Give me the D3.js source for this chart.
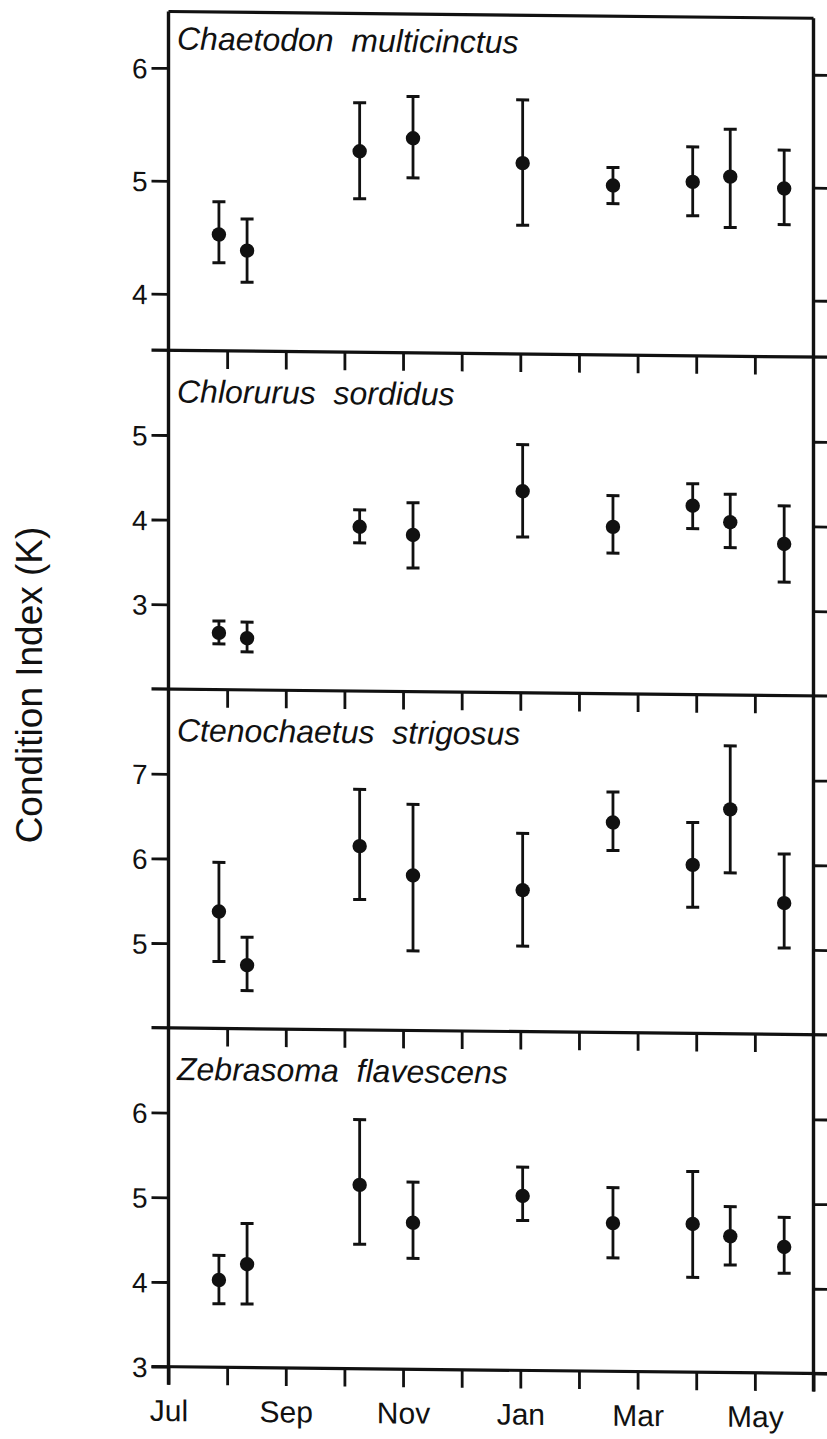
<!DOCTYPE html>
<html>
<head>
<meta charset="utf-8">
<script src="https://cdn.jsdelivr.net/npm/d3@7"></script>
<style>
  html, body { margin: 0; padding: 0; background: #fff; }
  svg { display: block; font-family: "Liberation Sans", Arial, Helvetica, sans-serif; }
  .title { white-space: pre; }
</style>
</head>
<body>
<svg id="chart" width="827" height="1439"></svg>
<script>
// ---------------- data ----------------
const monthNames = ["Jul","Aug","Sep","Oct","Nov","Dec","Jan","Feb","Mar","Apr","May","Jun"];
const monthTickLabels = ["Jul","","Sep","","Nov","","Jan","","Mar","","May",""];
// sampling dates, in months after 1 July
const sampleMonths = [0.86, 1.34, 3.26, 4.17, 6.04, 7.58, 8.94, 9.58, 10.5];

const speciesNames = ["Chaetodon  multicinctus", "Chlorurus  sordidus", "Ctenochaetus  strigosus", "Zebrasoma  flavescens"];
const yDomains = [[3.5, 6.5], [2, 6], [4, 8], [3, 7]];
const yTickValues = [[4, 5, 6], [3, 4, 5], [5, 6, 7], [3, 4, 5, 6]];

const chaetodonMean  = [4.53, 4.39, 5.28, 5.40, 5.19, 5.00, 5.04, 5.09, 4.99];
const chaetodonUpper = [4.82, 4.67, 5.71, 5.77, 5.75, 5.16, 5.35, 5.51, 5.33];
const chaetodonLower = [4.28, 4.11, 4.86, 5.05, 4.64, 4.84, 4.74, 4.64, 4.67];

const chlorurusMean  = [2.67, 2.61, 3.94, 3.85, 4.38, 3.97, 4.23, 4.04, 3.79];
const chlorurusUpper = [2.81, 2.80, 4.14, 4.23, 4.93, 4.34, 4.49, 4.37, 4.24];
const chlorurusLower = [2.54, 2.45, 3.75, 3.46, 3.84, 3.66, 3.96, 3.74, 3.34];

const ctenochaetusMean  = [5.38, 4.75, 6.17, 5.83, 5.67, 6.48, 5.99, 6.65, 5.55];
const ctenochaetusUpper = [5.96, 5.08, 6.84, 6.67, 6.34, 6.84, 6.49, 7.40, 6.13];
const ctenochaetusLower = [4.79, 4.45, 5.54, 4.94, 5.01, 6.15, 5.49, 5.90, 5.02];

const zebrasomaMean  = [4.03, 4.22, 5.17, 4.73, 5.06, 4.75, 4.75, 4.61, 4.49];
const zebrasomaUpper = [4.32, 4.70, 5.94, 5.21, 5.40, 5.17, 5.37, 4.96, 4.84];
const zebrasomaLower = [3.75, 3.75, 4.47, 4.31, 4.77, 4.34, 4.12, 4.27, 4.18];

const yTitle = "Condition Index (K)";

const seriesMeans  = [chaetodonMean, chlorurusMean, ctenochaetusMean, zebrasomaMean];
const seriesUppers = [chaetodonUpper, chlorurusUpper, ctenochaetusUpper, zebrasomaUpper];
const seriesLowers = [chaetodonLower, chlorurusLower, ctenochaetusLower, zebrasomaLower];

// ---------------- layout ----------------
const left = 168.5, right = 813.5;
const plotTop = 11.5, panelH = 338.8;
const shear = 0.0105;

const svg = d3.select("#chart");
const root = svg.append("g")
  .attr("transform", `matrix(1,${shear},0,1,0,${-shear * left})`);

const x = d3.scaleLinear().domain([0, 11]).range([left, right]);

const ink = "#111";
const tickLen = 18;

speciesNames.forEach((name, i) => {
  const top = plotTop + i * panelH;
  const bottom = top + panelH;
  const y = d3.scaleLinear().domain(yDomains[i]).range([bottom, top]);
  const g = root.append("g");

  // left axis (labels)
  const ly = g.append("g").attr("transform", `translate(${left},0)`)
    .call(d3.axisLeft(y).tickValues(yTickValues[i]).tickSize(17).tickSizeOuter(0).tickPadding(4).tickFormat(d3.format("d")));
  ly.select(".domain").remove();
  ly.selectAll("line").attr("stroke", ink).attr("stroke-width", 2.8);
  ly.selectAll("text").attr("font-size", 28).attr("fill", ink).attr("dy", "0.36em");

  // right axis (ticks only)
  const ry = g.append("g").attr("transform", `translate(${right},0)`)
    .call(d3.axisRight(y).tickValues(yTickValues[i]).tickSize(16).tickSizeOuter(0).tickFormat(""));
  ry.select(".domain").remove();
  ry.selectAll("line").attr("stroke", ink).attr("stroke-width", 2.8);

  // top border of panel
  if (i === 0) {
    g.append("line").attr("x1", left).attr("x2", right).attr("y1", top).attr("y2", top)
      .attr("stroke", ink).attr("stroke-width", 3.2);
  } else {
    g.append("line").attr("x1", left - 17).attr("x2", 827).attr("y1", top).attr("y2", top)
      .attr("stroke", ink).attr("stroke-width", 3.2);
    const tx = g.append("g").attr("transform", `translate(0,${top})`)
      .call(d3.axisBottom(x).tickValues(d3.range(1, 11)).tickSize(tickLen).tickSizeOuter(0).tickFormat(""));
    tx.select(".domain").remove();
    tx.selectAll("line").attr("stroke", ink).attr("stroke-width", 2.8);
  }

  // species title
  g.append("text").attr("class", "title")
    .attr("x", 177).attr("y", top + (i === 0 ? 38 : 52))
    .attr("font-size", 32).attr("font-style", "italic").attr("fill", ink)
    .text(name);

  // error bars & points
  const pts = sampleMonths.map((m, k) => ({ m, mean: seriesMeans[i][k], lo: seriesLowers[i][k], hi: seriesUppers[i][k] }));
  const eb = g.append("g").selectAll("g").data(pts).join("g");
  eb.append("line").attr("x1", d => x(d.m)).attr("x2", d => x(d.m))
    .attr("y1", d => y(d.lo)).attr("y2", d => y(d.hi))
    .attr("stroke", ink).attr("stroke-width", 2.8);
  eb.append("line").attr("x1", d => x(d.m) - 6.5).attr("x2", d => x(d.m) + 6.5)
    .attr("y1", d => y(d.hi)).attr("y2", d => y(d.hi))
    .attr("stroke", ink).attr("stroke-width", 3);
  eb.append("line").attr("x1", d => x(d.m) - 6.5).attr("x2", d => x(d.m) + 6.5)
    .attr("y1", d => y(d.lo)).attr("y2", d => y(d.lo))
    .attr("stroke", ink).attr("stroke-width", 3);
  eb.append("circle").attr("cx", d => x(d.m)).attr("cy", d => y(d.mean)).attr("r", 7.2)
    .attr("fill", ink);

  // bottom axis on last panel
  if (i === speciesNames.length - 1) {
    g.append("line").attr("x1", left - 17).attr("x2", 827).attr("y1", bottom).attr("y2", bottom)
      .attr("stroke", ink).attr("stroke-width", 3.2);
    const bx = g.append("g").attr("transform", `translate(0,${bottom})`)
      .call(d3.axisBottom(x).tickValues(d3.range(0, 12)).tickSize(tickLen).tickSizeOuter(0).tickPadding(15)
        .tickFormat((d) => monthTickLabels[d]));
    bx.select(".domain").remove();
    bx.selectAll("line").attr("stroke", ink).attr("stroke-width", 2.8);
    bx.selectAll("text").attr("font-size", 30).attr("fill", ink);
  }
});

// left and right borders
const frameBottom = plotTop + 4 * panelH + tickLen;
root.append("line").attr("x1", left).attr("x2", left).attr("y1", plotTop).attr("y2", frameBottom)
  .attr("stroke", ink).attr("stroke-width", 3.4);
root.append("line").attr("x1", right).attr("x2", right).attr("y1", plotTop).attr("y2", frameBottom)
  .attr("stroke", ink).attr("stroke-width", 3.4);

// y-axis title
svg.append("text")
  .attr("transform", `translate(42,685) rotate(-90)`)
  .attr("text-anchor", "middle")
  .attr("font-size", 37).attr("fill", ink)
  .text(yTitle);
</script>
</body>
</html>
